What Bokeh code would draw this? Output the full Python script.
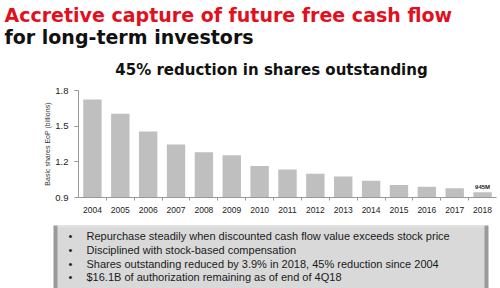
from bokeh.plotting import figure
from bokeh.layouts import column, row
from bokeh.models import Range1d, FixedTicker, ColumnDataSource
from bokeh.embed import file_html
from bokeh.resources import INLINE
from bokeh.core.properties import value

FONT = "Liberation Sans"
HEAD_FONT = "DejaVu Sans"

# Basic shares outstanding at end of period (billions)
years = [2004, 2005, 2006, 2007, 2008, 2009, 2010, 2011, 2012, 2013, 2014, 2015, 2016, 2017, 2018]
shares = [1.725, 1.605, 1.455, 1.345, 1.28, 1.255, 1.165, 1.136, 1.10, 1.077, 1.04, 1.005, 0.99, 0.978, 0.945]
y_ticks = [0.9, 1.2, 1.5, 1.8]
last_label = "945M"

title_1 = "Accretive capture of future free cash flow"
title_2 = "for long-term investors"
subtitle = "45% reduction in shares outstanding"
bullets = [
    "Repurchase steadily when discounted cash flow value exceeds stock price",
    "Disciplined with stock-based compensation",
    "Shares outstanding reduced by 3.9% in 2018, 45% reduction since 2004",
    "$16.1B of authorization remaining as of end of 4Q18",
]

WIDTH = 500


def panel(height):
    # plain panel with no borders; data units equal pixels
    f = figure(width=WIDTH, height=height, output_backend="svg", toolbar_location=None,
               x_range=Range1d(0, WIDTH), y_range=Range1d(height, 0),
               min_border=0, outline_line_color=None)
    f.axis.visible = False
    f.grid.visible = False
    return f


def words(f, x, y, text, size, font=FONT, color="#111111", style="normal", align="left"):
    f.text(x=x, y=y, text=text, text_font=value(font), text_font_size=size,
           text_font_style=style, text_color=color, text_align=align, text_baseline="middle")


# ---- header ----
head = panel(82)
words(head, [4], [14], [title_1], "19px", font=HEAD_FONT, color="#e2101e", style="bold")
words(head, [4], [36], [title_2], "19px", font=HEAD_FONT, style="bold")
words(head, [271], [69.5], [subtitle], "15px", font=HEAD_FONT, style="bold", align="center")

# ---- bar chart ----
src = ColumnDataSource(dict(year=years, shares=shares))
p = figure(width=WIDTH, height=133, output_backend="svg", toolbar_location=None,
           x_range=Range1d(2003.5, 2018.5), y_range=Range1d(0.9, 1.8),
           min_border_left=78, min_border_right=4, min_border_top=8, min_border_bottom=17,
           outline_line_color=None)
p.grid.visible = False
p.vbar(x="year", top="shares", bottom=0, width=0.66, source=src,
       fill_color="#bfbfbf", line_color=None)
p.text(x=[years[-1]], y=[shares[-1]], text=[last_label], text_font=value(FONT),
       text_font_size="6px", text_font_style="bold", text_color="#222222",
       text_align="center", text_baseline="bottom", y_offset=-2)

p.xaxis.ticker = FixedTicker(ticks=years, minor_ticks=[y + 0.5 for y in years[:-1]])
p.xaxis.major_tick_line_color = None
p.xaxis.minor_tick_out = 3
p.xaxis.minor_tick_in = 0
p.xaxis.minor_tick_line_color = "#999999"
p.xaxis.major_label_standoff = 3
p.xaxis.major_label_text_font = FONT
p.xaxis.major_label_text_font_size = "8.5px"
p.xaxis.major_label_text_color = "#222222"
p.xaxis.axis_line_color = "#999999"

p.yaxis.ticker = FixedTicker(ticks=y_ticks, minor_ticks=[])
p.yaxis.major_label_overrides = {t: f"{t:.1f}" for t in y_ticks}
p.yaxis.major_tick_out = 4
p.yaxis.major_tick_in = 0
p.yaxis.major_tick_line_color = "#999999"
p.yaxis.axis_line_color = "#999999"
p.yaxis.major_label_standoff = 6
p.yaxis.major_label_text_font = FONT
p.yaxis.major_label_text_font_size = "9.5px"
p.yaxis.major_label_text_color = "#222222"
p.yaxis.axis_label = "Basic shares EoP (billions)"
p.yaxis.axis_label_text_font = FONT
p.yaxis.axis_label_text_font_size = "7px"
p.yaxis.axis_label_text_font_style = "normal"
p.yaxis.axis_label_text_color = "#333333"
p.yaxis.axis_label_standoff = 1

# ---- bullet box ----
box = panel(73)
box.quad(left=[53], right=[488], top=[10], bottom=[73], fill_color="#9a9a9a", line_color=None)
box.quad(left=[57], right=[484], top=[10], bottom=[73], fill_color="#d9d9d9", line_color=None)
box.line(x=[57, 484], y=[10.5, 10.5], line_color="#eeeeee", line_width=1)
line_y = [20.7, 34, 48.3, 61.7]
words(box, [68] * 4, line_y, ["\u2022"] * 4, "11px", color="#222222")
words(box, [86] * 4, line_y, bullets, "11px", color="#1a1a1a")

# the chart sits in its own row so the text panels keep their full width
layout = column(head, row(p), box, spacing=0)
open("out.html", "w").write(file_html(layout, INLINE))
